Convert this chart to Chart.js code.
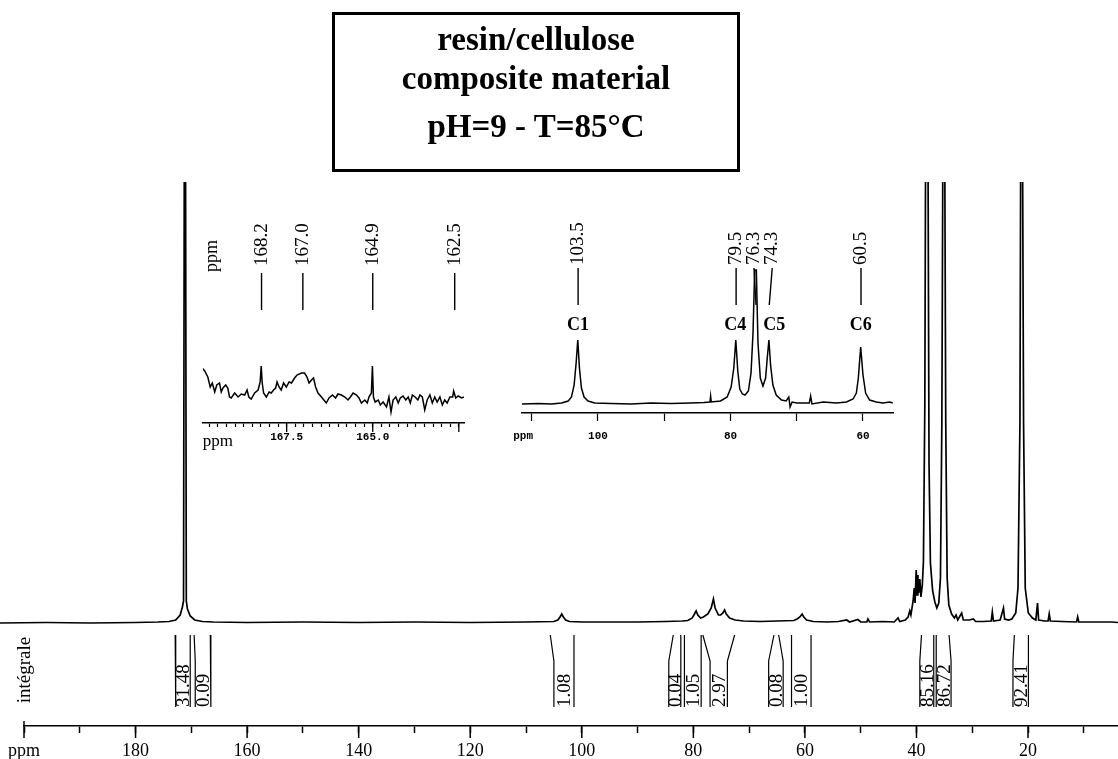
<!DOCTYPE html>
<html><head><meta charset="utf-8">
<script src="https://cdn.jsdelivr.net/npm/chart.js@4.4.1/dist/chart.umd.min.js"></script>
<style>
html,body{margin:0;padding:0;background:#fff;}
#wrap{position:relative;width:1118px;height:759px;overflow:hidden;background:#fff;}
canvas{position:absolute;}
#main{left:0;top:0;}
#ins1{left:180px;top:205px;}
#ins2{left:495px;top:205px;}
#titlebox{position:absolute;left:332px;top:12px;width:402px;height:154px;border:3px solid #000;font-family:'Liberation Serif','Times New Roman',serif;font-weight:bold;font-size:33px;color:#000;}
.tl{position:absolute;left:0;width:100%;text-align:center;line-height:40px;white-space:nowrap;}
</style></head>
<body>
<div id="wrap">
<canvas id="main" width="1118" height="759"></canvas>
<canvas id="ins1" width="300" height="250"></canvas>
<canvas id="ins2" width="410" height="250"></canvas>
<div id="titlebox">
  <div class="tl" style="top:4px">resin/cellulose</div>
  <div class="tl" style="top:43px">composite material</div>
  <div class="tl" style="top:91px">pH=9 - T=85°C</div>
</div>
</div>
<script>
// ---------- main spectrum (ppm, intensity in arbitrary units) ----------
const mainPpm = [
 204.3,196,188,180,176,174,172.8,172.0,171.6,171.4,
 171.25,171.05,170.9,170.7,170.2,169.4,168,166,160,150,
 140,130,120,110,105.0,104.3,103.9,103.6,103.3,102.9,
 102.2,100,90,85,82,81,80.2,79.8,79.5,79.2,
 78.7,78.2,77.4,76.8,76.4,76.1,75.5,75.1,74.7,74.4,
 74.1,73.5,72.5,71,68,65,62,61.4,60.9,60.5,
 60.2,59.7,58.5,56,54,52.5,52,50.5,50,48.9,
 48.7,48.4,46,44,43.3,43.0,42.0,41.5,41.2,41.0,
 40.6,40.4,40.25,40.05,39.9,39.75,39.6,39.4,39.2,38.95,
 38.75,38.5,38.35,37.95,37.75,37.5,37.1,36.7,36.35,36.0,
 35.7,35.45,35.25,34.95,34.75,34.5,34.2,33.7,33.2,32.9,
 32.6,31.9,31.6,30.5,29.8,29.4,28,26.6,26.4,26.2,
 25,24.4,24.2,23.5,22.9,22.2,21.8,21.45,21.3,21.0,
 20.8,20.5,19.95,19.2,18.6,18.3,18.1,17,16.4,16.2,
 16.0,14,11.3,11.1,10.9,8,5,3.87];
const mainIntensity = [
 0,0.5,0,0.5,1,1.5,3,8,16,22,
 500,500,22,14,7,3,1.5,1,0.5,1,
 0.5,1,0.5,1,1.5,3,6,9,6,3,
 1.5,1,1,1.5,2,2.5,5,9,12,8,
 5,6,9,15,24,15,8,8,10,13,
 9,5,3,2,1.5,2,2.5,4,6,9,
 6,3,1.5,1,1.5,3,1,3.5,1,1,
 4,1,1.5,1,5,1.5,3,6,12,8,
 22,35,20,53,28,48,30,44,26,38,
 62,220,500,500,160,60,32,21,15,20,
 45,200,500,500,200,45,18,9,5,8,
 3,10,3,3,4,1.5,1.5,2,11,2,
 3,15,4,3,4,10,35,200,500,500,
 200,35,10,5,3,20,3,2,2,9,
 2,1.5,1,6,1,1,1,0.5];

// main axis
const mainTickValues = [200,190,180,170,160,150,140,130,120,110,100,90,80,70,60,50,40,30,20,10];
const mainLabelValues = [200,180,160,140,120,100,80,60,40,20];
const mainLabelTexts = ['ppm','180','160','140','120','100','80','60','40','20'];

// integrals
const integralLabels = ['31.48','0.09','1.08','0.04','1.05','2.97','0.08','1.00','85.16','86.72','92.41'];
const integralFromTop = [172.9,169.5,105.65,83.6,81.6,78.3,65.55,62.4,39.1,36.46,22.45];
const integralFrom    = [172.8,169.3,105.0,84.4,81.6,77.0,66.5,62.4,39.4,36.46,22.7];
const integralToTop   = [170.2,166.6,101.4,82.25,78.6,72.6,64.7,58.9,36.9,34.15,19.93];
const integralTo      = [170.2,166.5,101.4,82.25,78.6,73.9,63.9,58.9,36.9,33.8,19.93];

// ---------- inset 1 (carbonyl region) ----------
const inset1Ppm = [
 169.95,169.88,169.79,169.72,169.66,169.59,169.53,169.45,169.40,169.35,
 169.27,169.21,169.16,169.11,169.01,168.91,168.82,168.72,168.65,168.60,
 168.53,168.43,168.33,168.27,168.24,168.21,168.17,168.09,168.01,167.95,
 167.88,167.82,167.78,167.72,167.66,167.59,167.51,167.43,167.36,167.27,
 167.20,167.07,166.98,166.91,166.85,166.78,166.72,166.66,166.59,166.49,
 166.42,166.35,166.27,166.17,166.08,166.01,165.91,165.81,165.72,165.65,
 165.57,165.47,165.40,165.33,165.23,165.16,165.11,165.04,165.01,164.98,
 164.93,164.84,164.78,164.70,164.60,164.53,164.47,164.41,164.33,164.26,
 164.20,164.12,164.04,163.97,163.91,163.85,163.77,163.69,163.63,163.56,
 163.49,163.42,163.34,163.27,163.20,163.13,163.05,162.98,162.91,162.84,
 162.76,162.68,162.65,162.59,162.52,162.42,162.35];
const inset1Intensity = [
 55,52,46,36,40,31,38,40,31,35,
 38,35,26,25,30,26,29,28,33,26,
 24,30,33,41,57,40,30,26,31,30,
 33,35,41,36,33,40,36,41,40,45,
 48,50,50,46,40,43,45,36,30,26,
 23,20,25,28,25,29,28,26,23,26,
 30,28,25,20,23,20,26,30,57,26,
 21,23,18,21,16,26,11,23,26,20,
 25,27,23,26,20,28,26,23,28,26,
 13,23,28,20,26,21,26,18,23,20,
 26,26,32,25,27,25,26];
const inset1TickValues = [169.75,169.5,169.25,169.0,168.75,168.5,168.25,168.0,167.75,167.5,167.25,167.0,166.75,166.5,166.25,166.0,165.75,165.5,165.25,165.0,164.75,164.5,164.25,164.0,163.75,163.5,163.25,163.0,162.75,162.5];
const inset1MajorTicks = [167.5,165.0,162.5];
const inset1TickLabelValues = [169.5,167.5,165.0];
const inset1TickLabelTexts = ['ppm','167.5','165.0'];
const inset1PeakTexts = ['168.2','167.0','164.9','162.5'];
const inset1PeakPpm = [168.23,167.03,165.0,162.62];

// ---------- inset 2 (cellulose region) ----------
const inset2Ppm = [
 111.5,109,107,105.5,104.5,104.0,103.6,103.3,103.05,102.8,
 102.5,102.1,101.5,100.5,98,95,92,89,86,84,
 83.1,83.0,82.9,81.5,80.5,79.9,79.5,79.2,78.9,78.6,
 78.2,77.8,77.3,76.9,76.6,76.35,76.1,75.85,75.5,75.1,
 74.7,74.45,74.2,73.95,73.6,73.1,72.3,71.6,71.2,71.0,
 70.7,70,68.1,67.9,67.7,66,64,62.5,61.5,61.0,
 60.7,60.35,60.0,59.6,59.0,58,57,56,55.5];
const inset2Intensity = [
 9,9.5,9,10,12,16,28,50,73,45,
 25,16,12,10,9.5,9,10,9.5,10,10.5,
 11,17,11,12,16,26,45,73,42,24,
 19,18,22,40,80,143,143,70,35,27,
 35,55,73,48,28,18,13,12,16,6,
 11,10,10,17,9,11,10,11,14,20,
 35,66,38,20,13,11,10,11,10];
const inset2TickValues = [111.3,110,100,90,80,70,60];
const inset2TickLabelValues = [111.3,100,80,60];
const inset2TickLabelTexts = ['ppm','100','80','60'];
const inset2PeakTexts = ['103.5','79.5','76.3','74.3','60.5'];
const inset2PeakTop = [103.0,79.15,76.45,73.7,60.3];
const inset2PeakBottom = [103.0,79.15,76.15,74.15,60.3];
const carbonLabels = ['C1','C4','C5','C6'];
const carbonPpm = [103.0,79.3,73.4,60.35];

// ---------- helpers ----------
const pairs = (xs, ys) => xs.map((x, i) => ({x: x, y: ys[i]}));
function rotText(ctx, txt, x, y, font) {
  ctx.save(); ctx.translate(x, y); ctx.rotate(-Math.PI/2);
  ctx.font = font; ctx.textAlign = 'left'; ctx.textBaseline = 'middle'; ctx.fillStyle = '#000';
  ctx.fillText(txt, 0, 0); ctx.restore();
}
function labelOf(v, vals, texts) { const i = vals.findIndex(a => Math.abs(a - v) < 1e-6); return i >= 0 ? texts[i] : ''; }

// integral bracket lines
const integralPts = [];
integralLabels.forEach((t, i) => {
  integralPts.push({x: integralFromTop[i], y: -12}, {x: integralFrom[i], y: -38}, {x: integralFrom[i], y: -84}, {x: integralFrom[i], y: null});
  integralPts.push({x: integralToTop[i], y: -12}, {x: integralTo[i], y: -38}, {x: integralTo[i], y: -84}, {x: integralTo[i], y: null});
});

const serif = "'Liberation Serif','Times New Roman',serif";

const mainExtras = {
  id: 'mainExtras',
  afterDraw(chart) {
    const {ctx, chartArea, scales} = chart; const x = scales.x, y = scales.y;
    ctx.save(); ctx.strokeStyle = '#000'; ctx.lineWidth = 1.5;
    mainLabelValues.forEach(v => {
      const px = x.getPixelForValue(v);
      ctx.beginPath(); ctx.moveTo(px, chartArea.bottom - (v === 200 ? 5 : 0)); ctx.lineTo(px, chartArea.bottom + 12); ctx.stroke();
    });
    integralLabels.forEach((t, i) => {
      const xc = (x.getPixelForValue(integralFrom[i]) + x.getPixelForValue(integralTo[i])) / 2;
      rotText(ctx, t, xc + 1, y.getPixelForValue(-84), '19px ' + serif);
    });
    ctx.save(); ctx.translate(25, y.getPixelForValue(-47)); ctx.rotate(-Math.PI/2);
    ctx.font = '19px ' + serif; ctx.textAlign = 'center'; ctx.textBaseline = 'middle'; ctx.fillStyle = '#000';
    ctx.fillText('intégrale', 0, 0); ctx.restore();
    ctx.restore();
  }
};

new Chart(document.getElementById('main'), {
  type: 'line',
  data: { datasets: [
    { data: pairs(mainPpm, mainIntensity), borderColor: '#000', borderWidth: 1.7, pointRadius: 0, tension: 0, clip: {left: 30, top: 0, right: 0, bottom: 0} },
    { data: integralPts, borderColor: '#000', borderWidth: 1.2, pointRadius: 0, spanGaps: false }
  ]},
  options: {
    responsive: false, animation: false, devicePixelRatio: 1,
    layout: { padding: {left: 24, top: 182, right: 0, bottom: 0} },
    plugins: { legend: {display: false}, tooltip: {enabled: false} },
    scales: {
      x: { type: 'linear', reverse: true, min: 3.87, max: 200,
        afterBuildTicks: s => { s.ticks = mainTickValues.map(v => ({value: v})); },
        afterFit: s => { s.height = 33; },
        grid: { drawOnChartArea: false, drawTicks: true, tickLength: 7, tickColor: '#000', tickWidth: 1.5 },
        border: { display: true, color: '#000', width: 1.6 },
        ticks: { autoSkip: false, maxRotation: 0, minRotation: 0, padding: 7, color: '#000',
          font: { family: serif, size: 18 },
          callback: v => labelOf(v, mainLabelValues, mainLabelTexts) } },
      y: { display: false, min: -103, max: 441 }
    }
  },
  plugins: [mainExtras]
});

// ---------- inset 1 ----------
const ins1Lines = [];
inset1PeakPpm.forEach(p => { ins1Lines.push({x: p, y: 150}, {x: p, y: 113}, {x: p, y: null}); });
const ins1Extras = {
  id: 'ins1Extras',
  afterDraw(chart) {
    const {ctx, chartArea, scales} = chart; const x = scales.x, y = scales.y;
    ctx.save(); ctx.strokeStyle = '#000'; ctx.lineWidth = 1.3;
    inset1MajorTicks.forEach(v => { const px = x.getPixelForValue(v); ctx.beginPath(); ctx.moveTo(px, chartArea.bottom); ctx.lineTo(px, chartArea.bottom + 9); ctx.stroke(); });
    inset1PeakTexts.forEach((t, i) => rotText(ctx, t, x.getPixelForValue(inset1PeakPpm[i]), y.getPixelForValue(157), '19px ' + serif));
    rotText(ctx, 'ppm', x.getPixelForValue(169.65), y.getPixelForValue(151), '18px ' + serif);
    ctx.restore();
  }
};
new Chart(document.getElementById('ins1'), {
  type: 'line',
  data: { datasets: [
    { data: pairs(inset1Ppm, inset1Intensity), borderColor: '#000', borderWidth: 1.5, pointRadius: 0, tension: 0 },
    { data: ins1Lines, borderColor: '#000', borderWidth: 1.4, pointRadius: 0, spanGaps: false }
  ]},
  options: {
    responsive: false, animation: false, devicePixelRatio: 1,
    layout: { padding: {left: 23, top: 10, right: 16, bottom: 0} },
    plugins: { legend: {display: false}, tooltip: {enabled: false} },
    scales: {
      x: { type: 'linear', reverse: true, min: 162.35, max: 169.93,
        afterBuildTicks: s => { s.ticks = inset1TickValues.map(v => ({value: v})); },
        afterFit: s => { s.height = 32; },
        grid: { drawOnChartArea: false, drawTicks: true, tickLength: 4, tickColor: '#000', tickWidth: 1.2 },
        border: { display: true, color: '#000', width: 1.6 },
        ticks: { autoSkip: false, maxRotation: 0, minRotation: 0, padding: 4, color: '#000',
          font: c => (c.tick && Math.abs(c.tick.value - 169.5) < 1e-6) ? {family: serif, size: 17} : {family: "'Liberation Mono',monospace", size: 11, weight: 'bold'},
          callback: v => labelOf(v, inset1TickLabelValues, inset1TickLabelTexts) } },
      y: { display: false, min: 0, max: 208 }
    }
  },
  plugins: [ins1Extras]
});

// ---------- inset 2 ----------
const ins2Lines = [];
inset2PeakTop.forEach((p, i) => { ins2Lines.push({x: p, y: 145}, {x: inset2PeakBottom[i], y: 108}, {x: p, y: null}); });
const ins2Extras = {
  id: 'ins2Extras',
  afterDraw(chart) {
    const {ctx, scales} = chart; const x = scales.x, y = scales.y;
    ctx.save();
    inset2PeakTexts.forEach((t, i) => rotText(ctx, t, x.getPixelForValue(inset2PeakTop[i]), y.getPixelForValue(148), '19px ' + serif));
    ctx.font = 'bold 18px ' + serif; ctx.textAlign = 'center'; ctx.textBaseline = 'middle'; ctx.fillStyle = '#000';
    carbonLabels.forEach((t, i) => ctx.fillText(t, x.getPixelForValue(carbonPpm[i]), y.getPixelForValue(88)));
    ctx.restore();
  }
};
new Chart(document.getElementById('ins2'), {
  type: 'line',
  data: { datasets: [
    { data: pairs(inset2Ppm, inset2Intensity), borderColor: '#000', borderWidth: 1.5, pointRadius: 0, tension: 0 },
    { data: ins2Lines, borderColor: '#000', borderWidth: 1.4, pointRadius: 0, spanGaps: false }
  ]},
  options: {
    responsive: false, animation: false, devicePixelRatio: 1,
    layout: { padding: {left: 27, top: 10, right: 12, bottom: 0} },
    plugins: { legend: {display: false}, tooltip: {enabled: false} },
    scales: {
      x: { type: 'linear', reverse: true, min: 55.47, max: 111.47,
        afterBuildTicks: s => { s.ticks = inset2TickValues.map(v => ({value: v})); },
        afterFit: s => { s.height = 42; },
        grid: { drawOnChartArea: false, drawTicks: true, tickLength: 8, tickWidth: 1.2,
          tickColor: c => (c.tick && Math.abs(c.tick.value - 111.3) < 1e-6) ? 'rgba(0,0,0,0)' : '#000' },
        border: { display: true, color: '#000', width: 1.6 },
        ticks: { autoSkip: false, maxRotation: 0, minRotation: 0, padding: 9, color: '#000',
          font: {family: "'Liberation Mono',monospace", size: 11, weight: 'bold'},
          callback: v => labelOf(v, inset2TickLabelValues, inset2TickLabelTexts) } },
      y: { display: false, min: 0, max: 198 }
    }
  },
  plugins: [ins2Extras]
});
</script>
</body></html>
